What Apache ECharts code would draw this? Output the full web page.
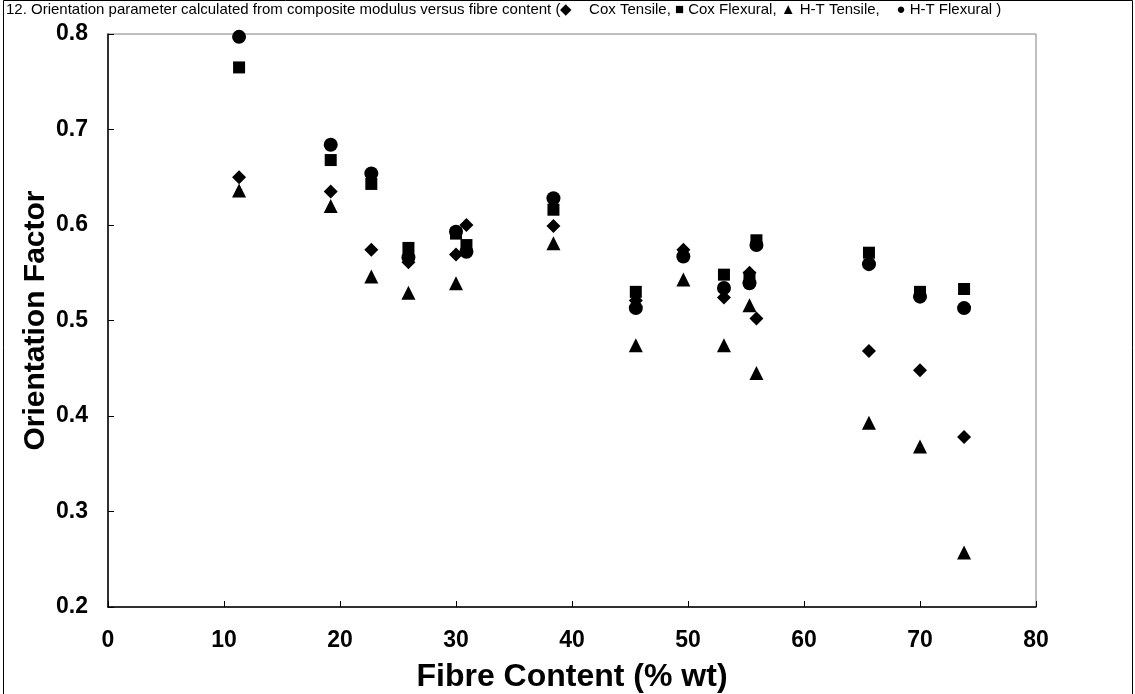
<!DOCTYPE html>
<html><head><meta charset="utf-8">
<script src="https://cdn.jsdelivr.net/npm/echarts@6/dist/echarts.min.js"></script>
<style>html,body{margin:0;padding:0;background:#fff}#c{width:1135px;height:694px}</style>
</head><body><div id="c"></div>
<script>
const fibreContent = [11.3, 19.2, 22.7, 25.9, 30.0, 30.9, 38.4, 45.5, 49.6, 53.1, 55.3, 55.9, 65.6, 70.0, 73.8];
const coxTensile   = [0.650, 0.635, 0.574, 0.561, 0.569, 0.600, 0.599, 0.521, 0.574, 0.524, 0.550, 0.502, 0.468, 0.448, 0.378];
const coxFlexural  = [0.765, 0.668, 0.643, 0.576, 0.591, 0.579, 0.616, 0.530, null, 0.548, 0.545, 0.584, 0.571, 0.530, 0.533];
const htTensile    = [0.636, 0.620, 0.546, 0.529, 0.539, null, 0.581, 0.474, 0.543, 0.474, 0.516, 0.445, 0.393, 0.368, 0.257];
const htFlexural   = [0.797, 0.684, 0.654, 0.566, 0.593, 0.572, 0.628, 0.513, 0.567, 0.534, 0.539, 0.579, 0.559, 0.525, 0.513];
const seriesNames  = ['Cox Tensile', 'Cox Flexural', 'H-T Tensile', 'H-T Flexural'];
const titleText = '12. Orientation parameter calculated from composite modulus versus fibre content (\u25C6    Cox Tensile, \u25A0 Cox Flexural, \u25B2 H-T Tensile,    \u25CF H-T Flexural )';

function pairs(ys){ const out=[]; ys.forEach((y,i)=>{ if(y!==null) out.push([fibreContent[i], y]); }); return out; }

const chart = echarts.init(document.getElementById('c'), null, {renderer:'canvas'});
const F = 'Arial, "Liberation Sans", sans-serif';
const mk = (name, ys, symbol, size) => ({
  name, type:'scatter', data: pairs(ys), symbol, symbolSize: size,
  itemStyle:{color:'#000', opacity:1}, emphasis:{disabled:true}, animation:false
});
chart.setOption({
  animation:false,
  backgroundColor:'#fff',
  grid:{left:108, right:99, top:34, bottom:87, show:true, borderColor:'#808080', borderWidth:1, containLabel:false, outerBoundsMode:'none'},
  graphic:[
    {type:'rect', shape:{x:3.5, y:0.5, width:1129, height:700}, style:{fill:'none', stroke:'#000', lineWidth:1}, z:-1},
    {type:'text', left:6, top:2, style:{text:titleText, font:'15px '+F, fill:'#000'}}
  ],
  xAxis:{
    type:'value', min:0, max:80, interval:10,
    name:'Fibre Content (% wt)', nameLocation:'middle', nameGap:54, nameMoveOverlap:false,
    nameTextStyle:{fontFamily:F, fontWeight:'bold', fontSize:32, color:'#000'},
    axisLine:{show:true, lineStyle:{color:'#000', width:1.5}},
    axisTick:{show:true, inside:true, length:6, lineStyle:{color:'#000'}},
    axisLabel:{fontFamily:F, fontWeight:'bold', fontSize:23, color:'#000', margin:22},
    splitLine:{show:false}
  },
  yAxis:{
    type:'value', min:0.2, max:0.8, interval:0.1,
    name:'Orientation Factor', nameLocation:'middle', nameGap:57, nameMoveOverlap:false,
    nameTextStyle:{fontFamily:F, fontWeight:'bold', fontSize:30, color:'#000'},
    axisLine:{show:true, lineStyle:{color:'#000', width:1.5}},
    axisTick:{show:true, inside:true, length:6, lineStyle:{color:'#000'}},
    axisLabel:{fontFamily:F, fontWeight:'bold', fontSize:23, color:'#000', margin:20, formatter:v=>v.toFixed(1)},
    splitLine:{show:false}
  },
  series:[
    mk(seriesNames[0], coxTensile, 'diamond', 14),
    mk(seriesNames[1], coxFlexural, 'rect', 12),
    mk(seriesNames[2], htTensile, 'triangle', 14),
    mk(seriesNames[3], htFlexural, 'circle', 14)
  ]
});
</script></body></html>
